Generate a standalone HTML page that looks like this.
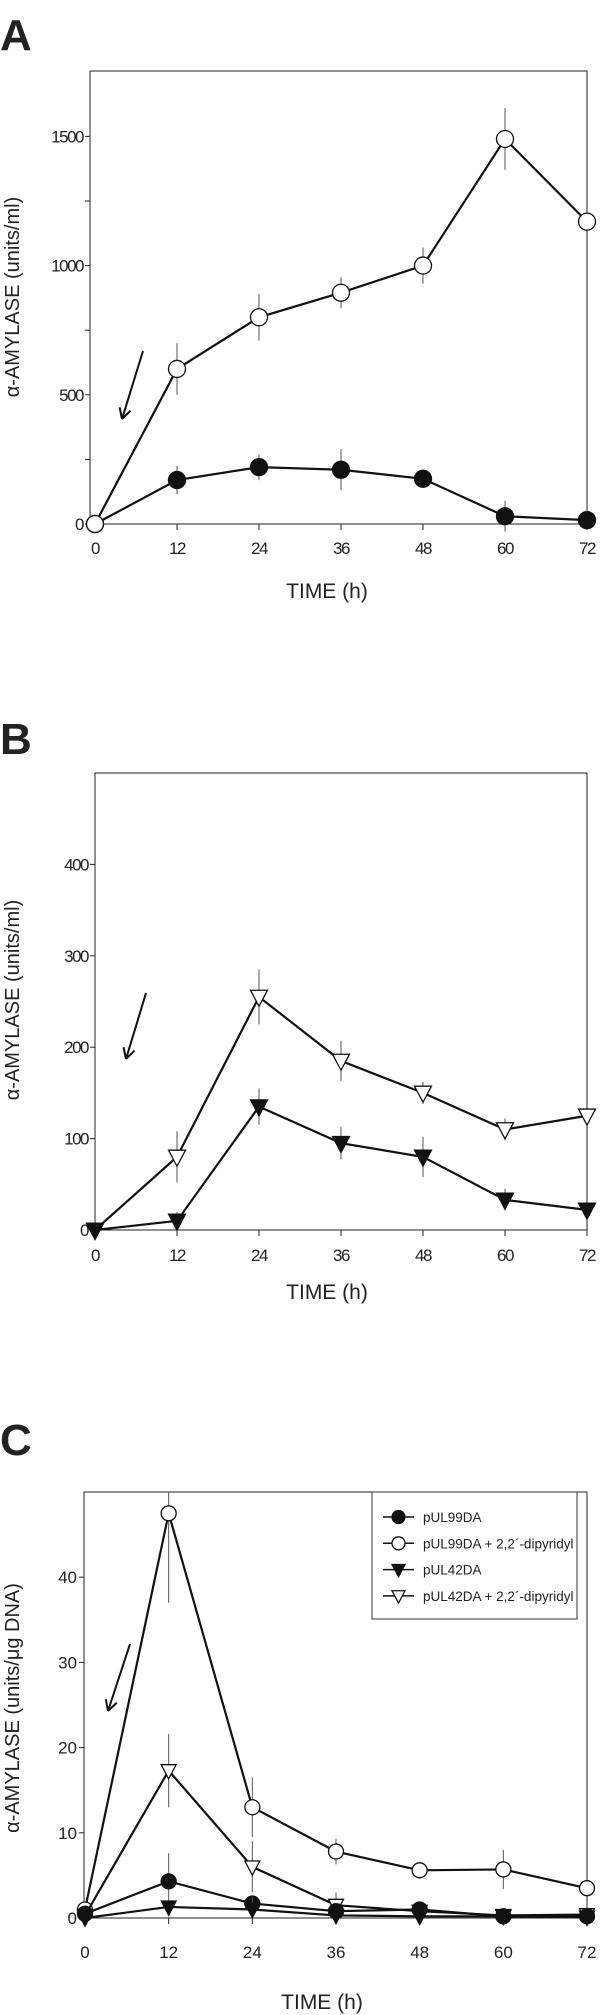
<!DOCTYPE html>
<html><head><meta charset="utf-8">
<style>
html,body{margin:0;padding:0;background:#fff;}
svg{display:block;}
text{font-family:"Liberation Sans",sans-serif;fill:#222;}
</style></head>
<body>
<svg id="fig" width="600" height="2015" viewBox="0 0 600 2015" xmlns="http://www.w3.org/2000/svg"></svg>
<script>
const timeHours = [0, 12, 24, 36, 48, 60, 72];
const xTickLabels = ["0", "12", "24", "36", "48", "60", "72"];

// Panel A
const aOpenCircle = [0, 600, 800, 895, 1000, 1490, 1170];
const aOpenCircleErr = [0, 100, 90, 60, 70, 120, 0];
const aFilledCircle = [0, 170, 220, 210, 175, 30, 15];
const aFilledCircleErr = [0, 55, 50, 80, 35, 60, 0];
const aYTicks = [0, 500, 1000, 1500];
const aYMinor = [250, 750, 1250];

// Panel B
const bOpenTri = [0, 80, 255, 185, 150, 110, 125];
const bOpenTriErr = [0, 28, 30, 22, 12, 12, 0];
const bFilledTri = [0, 10, 135, 95, 80, 33, 22];
const bFilledTriErr = [0, 10, 20, 18, 22, 12, 0];
const bYTicks = [0, 100, 200, 300, 400];

// Panel C
const cOpenCircle = [1, 47.5, 13, 7.8, 5.6, 5.7, 3.5];
const cOpenCircleErr = [0, 10.5, 3.5, 1.5, 1, 2.3, 0];
const cOpenTri = [0.3, 17.3, 6, 1.5, 0.8, 0.3, 0.4];
const cOpenTriErr = [0, 4.3, 3, 1.5, 0, 0, 0];
const cFilledCircle = [0.5, 4.3, 1.7, 0.8, 1, 0.2, 0.2];
const cFilledCircleErr = [0, 3.3, 0, 0, 0, 0, 0];
const cFilledTri = [0, 1.3, 1, 0.3, 0.2, 0.2, 0.1];
const cFilledTriErr = [0, 0, 1.5, 0, 0, 0, 0];
const cYTicks = [0, 10, 20, 30, 40];
const legendLabels = ["pUL99DA", "pUL99DA + 2,2\u00B4-dipyridyl", "pUL42DA", "pUL42DA + 2,2\u00B4-dipyridyl"];

const NS = "http://www.w3.org/2000/svg";
const svg = document.getElementById("fig");
function mk(tag, attrs, parent, txt) {
  const e = document.createElementNS(NS, tag);
  for (const k in attrs) e.setAttribute(k, attrs[k]);
  if (txt !== undefined) e.textContent = txt;
  (parent || svg).appendChild(e);
  return e;
}

function marker(g, kind, cx, cy, r) {
  let m;
  if (kind === "circle" || kind === "ocircle") {
    m = mk("circle", {cx: cx, cy: cy, r: r, fill: kind === "circle" ? "#111" : "#fff", stroke: "#111", "stroke-width": 1.3}, g);
  } else {
    const h = r * 1.05;
    const pts = (cx - r) + "," + (cy - h * 0.75) + " " + (cx + r) + "," + (cy - h * 0.75) + " " + cx + "," + (cy + h * 1.05);
    m = mk("polygon", {points: pts, fill: kind === "tri" ? "#111" : "#fff", stroke: "#111", "stroke-width": 1.3}, g);
  }
  return m;
}

let clipId = 0;
function panel(cfg) {
  const g = mk("g", {});
  
  
  const X = v => cfg.x0 + (v - 0) / 72 * (cfg.x1 - cfg.x0);
  const Y = v => cfg.yb - v / cfg.ymax * (cfg.yb - cfg.yt);
  const cid = "clip" + (clipId++);
  const cp = mk("clipPath", {id: cid}, g);
  mk("rect", {x: cfg.axL - 20, y: cfg.yt, width: cfg.x1 - cfg.axL + 40, height: cfg.yb - cfg.yt + 30}, cp);
  const lab = mk("text", {x: 0, y: cfg.labelY, "font-size": 44, "font-weight": "bold", fill: "#111"}, g, cfg.letter);
  
  
  const frame = mk("rect", {x: cfg.axL, y: cfg.yt, width: cfg.x1 - cfg.axL, height: cfg.yb - cfg.yt, fill: "none", stroke: "#222", "stroke-width": 1}, g);
  
  
  cfg.yticks.forEach(t => {
    const ln = mk("line", {x1: cfg.axL - 5, x2: cfg.axL, y1: Y(t), y2: Y(t), stroke: "#222"}, g);
    
    
    const tx = mk("text", {x: cfg.axL - 7, y: Y(t) + 6, "font-size": cfg.tickFs, "text-anchor": "end", "letter-spacing": cfg.ls}, g, String(t));
    
    
  });
  (cfg.minor || []).forEach(t => {
    const ln = mk("line", {x1: cfg.axL - 5, x2: cfg.axL, y1: Y(t), y2: Y(t), stroke: "#222"}, g);
    
    
  });
  timeHours.forEach((t, i) => {
    const ln = mk("line", {x1: X(t), x2: X(t), y1: cfg.yb, y2: cfg.yb + 6, stroke: "#222"}, g);
    
    
    const tx = mk("text", {x: X(t), y: cfg.xlabY, "font-size": cfg.tickFs, "text-anchor": "middle", "letter-spacing": cfg.ls}, g, xTickLabels[i]);
    
    
  });
  const xt = mk("text", {x: cfg.titleX, y: cfg.titleY, "font-size": 21, "text-anchor": "middle"}, g, "TIME (h)");
  
  
  const yt = mk("text", {x: 0, y: 0, "font-size": 20, "text-anchor": "middle", transform: "translate(" + cfg.ytX + "," + cfg.ytY + ") rotate(-90)"}, g, cfg.ytitle);
  
  
  const ar = mk("line", {x1: cfg.arrow[0], y1: cfg.arrow[1], x2: cfg.arrow[2], y2: cfg.arrow[3], stroke: "#111", "stroke-width": 2}, g);
  
  
  const ang = Math.atan2(cfg.arrow[3] - cfg.arrow[1], cfg.arrow[2] - cfg.arrow[0]);
  [0.5, -0.5].forEach(d => {
    const h = mk("line", {x1: cfg.arrow[2], y1: cfg.arrow[3], x2: cfg.arrow[2] - 12 * Math.cos(ang + d), y2: cfg.arrow[3] - 12 * Math.sin(ang + d), stroke: "#111", "stroke-width": 2}, g);
    
    
  });
  cfg.series.forEach(s => {
    const sg = mk("g", {}, g);
    
    
    s.vals.forEach((v, i) => {
      if (s.err[i] > 0) {
        const e = mk("line", {x1: X(timeHours[i]), x2: X(timeHours[i]), y1: Y(v - s.err[i]), y2: Y(v + s.err[i]), stroke: "#555", "stroke-width": 1, "clip-path": "url(#" + cid + ")"}, sg);
        
        
      }
    });
    const pts = s.vals.map((v, i) => X(timeHours[i]) + "," + Y(v)).join(" ");
    const pl = mk("polyline", {points: pts, fill: "none", stroke: "#111", "stroke-width": 2.2}, sg);
    
    
    s.vals.forEach((v, i) => {
      const m = marker(sg, s.kind, X(timeHours[i]), Y(v), cfg.r);
      
      
    });
  });
  return {g: g, X: X, Y: Y};
}

panel({name: "panel-a", letter: "A", labelY: 50, axL: 90, x0: 95, x1: 587, yt: 71, yb: 524, ymax: 1753,
  yticks: aYTicks, minor: aYMinor, tickFs: 17, ls: -1.5, xlabY: 554, titleX: 327, titleY: 598,
  ytX: 19, ytY: 297, ytitle: "\u03B1-AMYLASE (units/ml)", arrow: [143, 351, 122, 419], r: 8.5,
  series: [
    {name: "series-filled-circle", kind: "circle", vals: aFilledCircle, err: aFilledCircleErr},
    {name: "series-open-circle", kind: "ocircle", vals: aOpenCircle, err: aOpenCircleErr}
  ]});

panel({name: "panel-b", letter: "B", labelY: 754, axL: 95, x0: 95, x1: 587, yt: 773, yb: 1230, ymax: 500,
  yticks: bYTicks, tickFs: 17, ls: -1.5, xlabY: 1261, titleX: 327, titleY: 1299,
  ytX: 19, ytY: 1000, ytitle: "\u03B1-AMYLASE (units/ml)", arrow: [146, 993, 126, 1059], r: 8.5,
  series: [
    {name: "series-open-triangle", kind: "otri", vals: bOpenTri, err: bOpenTriErr},
    {name: "series-filled-triangle", kind: "tri", vals: bFilledTri, err: bFilledTriErr}
  ]});

panel({name: "panel-c", letter: "C", labelY: 1455, axL: 84, x0: 85, x1: 587, yt: 1492, yb: 1918, ymax: 50,
  yticks: cYTicks, tickFs: 17, ls: 0, xlabY: 1958, titleX: 322, titleY: 2009,
  ytX: 19, ytY: 1708, ytitle: "\u03B1-AMYLASE (units/\u03BCg DNA)", arrow: [130, 1644, 108, 1711], r: 7.5,
  series: [
    {name: "series-pul99da-dipyridyl", kind: "ocircle", vals: cOpenCircle, err: cOpenCircleErr},
    {name: "series-pul42da-dipyridyl", kind: "otri", vals: cOpenTri, err: cOpenTriErr},
    {name: "series-pul99da", kind: "circle", vals: cFilledCircle, err: cFilledCircleErr},
    {name: "series-pul42da", kind: "tri", vals: cFilledTri, err: cFilledTriErr}
  ]});

const lg = mk("g", {});


const lbox = mk("rect", {x: 372, y: 1492, width: 205, height: 127, fill: "#fff", stroke: "#333", "stroke-width": 1}, lg);


const legendKinds = ["circle", "ocircle", "tri", "otri"];
legendLabels.forEach((l, i) => {
  const y = 1517 + i * 26.3;
  const eg = mk("g", {}, lg);
  
  
  mk("line", {x1: 383, x2: 414, y1: y, y2: y, stroke: "#111", "stroke-width": 1.5}, eg);
  marker(eg, legendKinds[i], 398.5, y, 6.5);
  mk("text", {x: 423, y: y + 5, "font-size": 13.5}, eg, l);
});
</script>
</body></html>
